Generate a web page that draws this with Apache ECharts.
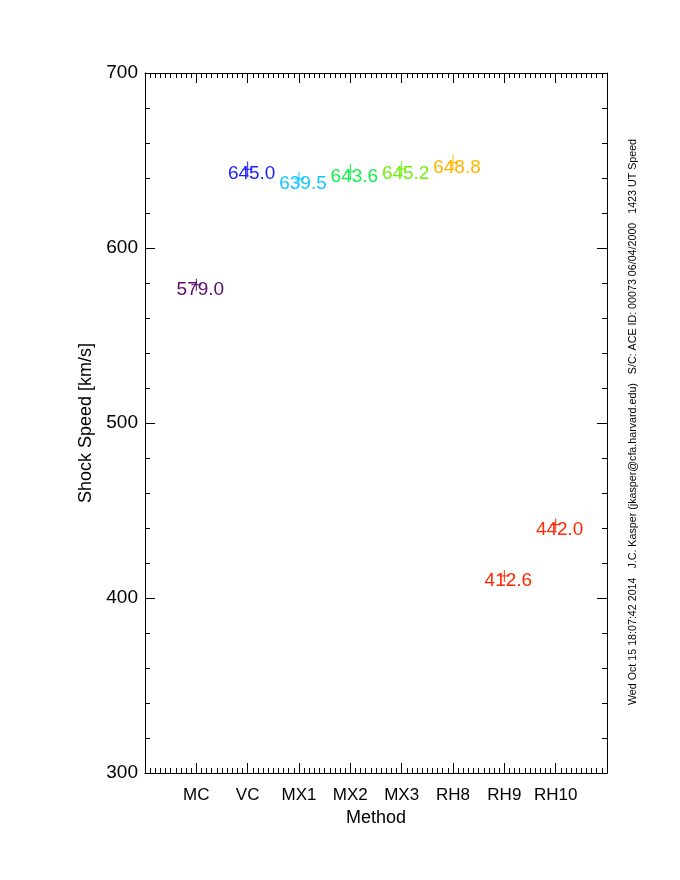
<!DOCTYPE html>
<html>
<head>
<meta charset="utf-8">
<script src="https://cdn.jsdelivr.net/npm/echarts@6/dist/echarts.min.js"></script>
<style>html,body{margin:0;padding:0;background:#fff}#c{width:680px;height:880px}</style>
</head>
<body>
<div id="c"></div>
<script>
var methods = ['MC', 'VC', 'MX1', 'MX2', 'MX3', 'RH8', 'RH9', 'RH10'];
var speeds = [579.0, 645.0, 639.5, 643.6, 645.2, 648.8, 412.6, 442.0];
var errors = [3, 4.5, 4, 4.5, 4.5, 4.5, 3, 3];
var colors = ['#5c0c6c', '#2020ff', '#10c8ff', '#10f048', '#70f010', '#ffb400', '#ff2800', '#ff2800'];
var yTicks = [300, 400, 500, 600, 700];
var footer = 'Wed Oct 15 18:07:42 2014   J.C. Kasper (jkasper@cfa.harvard.edu)   S/C: ACE ID: 00073 06/04/2000   1423 UT Speed';

var FONT = 'Liberation Sans';
var chart = echarts.init(document.getElementById('c'), null, {renderer: 'canvas'});

var pts = methods.map(function (m, i) { return [i + 1, speeds[i], errors[i], i]; });

var axisLineStyle = {color: '#000', width: 1};
var xCommon = {
  type: 'value', min: 0, max: 9, interval: 1,
  axisLine: {show: true, onZero: false, lineStyle: axisLineStyle},
  axisTick: {show: true, inside: true, length: 10, lineStyle: axisLineStyle},
  minorTick: {show: true, splitNumber: 10, length: 5, lineStyle: axisLineStyle},
  splitLine: {show: false}
};
var yCommon = {
  type: 'value', min: 300, max: 700, interval: 100,
  axisLine: {show: true, onZero: false, lineStyle: axisLineStyle},
  axisTick: {show: true, inside: true, length: 10, lineStyle: axisLineStyle},
  minorTick: {show: true, splitNumber: 5, length: 5, lineStyle: axisLineStyle},
  splitLine: {show: false}
};

chart.setOption({
  animation: false,
  backgroundColor: '#fff',
  grid: {left: 145, right: 73, top: 73, bottom: 107, containLabel: false},
  xAxis: [
    Object.assign({}, xCommon, {
      position: 'bottom',
      name: 'Method', nameLocation: 'middle', nameGap: 30,
      nameTextStyle: {fontFamily: FONT, fontSize: 18, color: '#000'},
      axisLabel: {
        show: true, margin: 14, fontFamily: FONT, fontSize: 17, color: '#000',
        formatter: function (v) { return (v >= 1 && v <= methods.length) ? methods[v - 1] : ''; }
      }
    }),
    Object.assign({}, xCommon, {position: 'top', axisLabel: {show: false}})
  ],
  yAxis: [
    Object.assign({}, yCommon, {
      position: 'left',
      name: 'Shock Speed [km/s]', nameLocation: 'middle', nameGap: 50,
      nameTextStyle: {fontFamily: FONT, fontSize: 18, color: '#000'},
      axisLabel: {
        show: true, margin: 7, fontFamily: FONT, fontSize: 19, color: '#000',
        formatter: function (v) { return yTicks.indexOf(v) >= 0 ? String(v) : ''; }
      }
    }),
    Object.assign({}, yCommon, {position: 'right', axisLabel: {show: false}})
  ],
  graphic: [{
    type: 'text', x: 633, y: 422, rotation: Math.PI / 2,
    style: {text: footer, fontFamily: FONT, fontSize: 10.7, fill: '#000', align: 'center', verticalAlign: 'middle'}
  }],
  series: [{
    type: 'custom',
    xAxisIndex: 0, yAxisIndex: 0,
    data: pts,
    clip: false,
    renderItem: function (params, api) {
      var x = api.value(0), v = api.value(1), e = api.value(2), idx = api.value(3);
      var p = api.coord([x, v]);
      var hi = api.coord([x, v + e]);
      var lo = api.coord([x, v - e]);
      var col = colors[idx];
      var top = Math.min(hi[1], p[1] - 6), bot = Math.max(lo[1], p[1] + 6);
      return {
        type: 'group',
        children: [
          {type: 'line', shape: {x1: p[0], y1: top, x2: p[0], y2: bot}, style: {stroke: col, lineWidth: 1}},
          {type: 'line', shape: {x1: p[0] - 5, y1: p[1], x2: p[0] + 5, y2: p[1]}, style: {stroke: col, lineWidth: 1}},
          {type: 'text', x: p[0] + 4, y: p[1] + 5,
           style: {text: speeds[idx].toFixed(1), fontFamily: FONT, fontSize: 19, fill: col, align: 'center', verticalAlign: 'middle'}}
        ]
      };
    }
  }]
});
</script>
</body>
</html>
